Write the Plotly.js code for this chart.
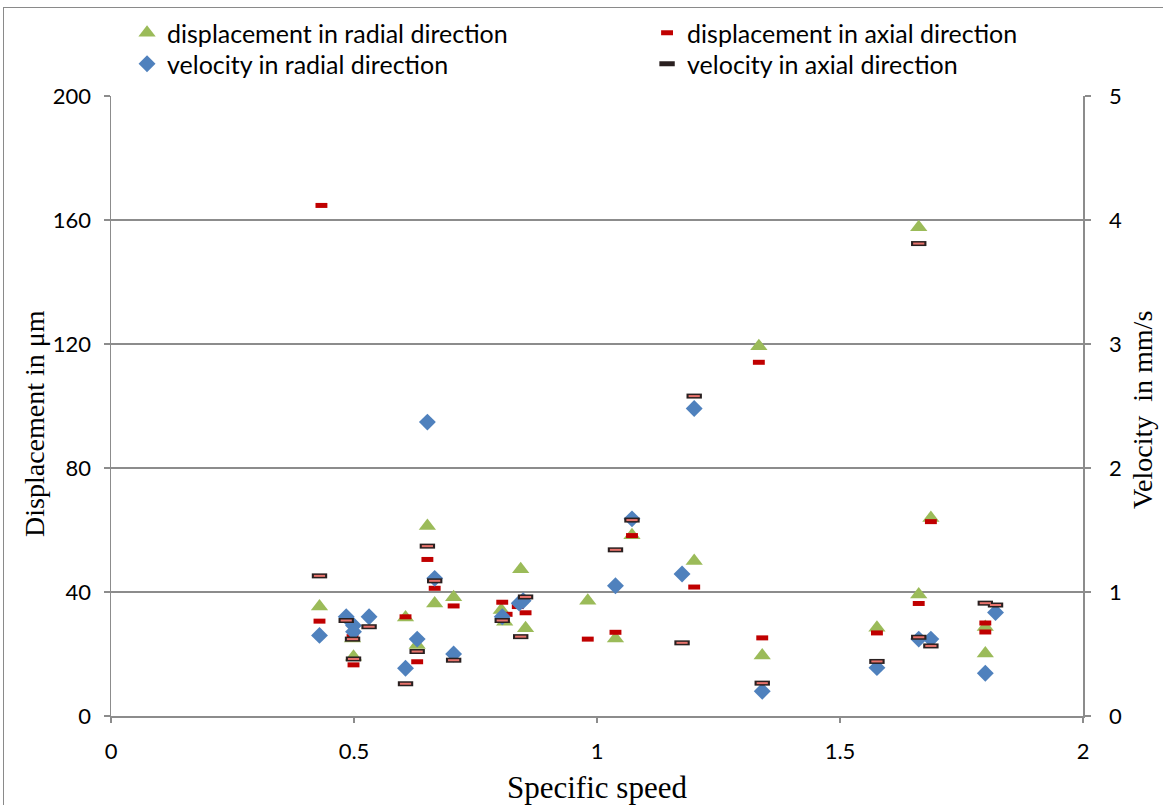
<!DOCTYPE html>
<html><head><meta charset="utf-8">
<script src="https://cdn.plot.ly/plotly-3.0.1.min.js"></script>
<style>
html,body{margin:0;padding:0;background:#fff;overflow:hidden;}
#chart{width:1163px;height:805px;}
#frame{position:absolute;left:3px;top:7px;width:1300px;height:1000px;border-left:1.5px solid #8a8a8a;border-top:1.5px solid #8a8a8a;pointer-events:none;}
</style></head><body>
<div id="chart"></div><div id="frame"></div>
<script>
// Displacement in radial direction (µm)
const dispRadialX = [0.429,0.497,0.499,0.606,0.630,0.651,0.666,0.705,0.803,0.810,0.843,0.853,0.981,1.038,1.072,1.200,1.333,1.340,1.576,1.662,1.662,1.687,1.799,1.799];
const dispRadialY = [35.3,25.0,19.1,31.8,22.9,61.3,36.3,38.3,34.2,30.4,47.3,28.3,37.2,25.0,58.3,50.0,119.3,19.5,28.5,157.7,39.2,63.9,28.7,20.2];
// Displacement in axial direction (µm)
const dispAxialX = [0.429,0.433,0.497,0.499,0.606,0.630,0.651,0.666,0.705,0.805,0.814,0.837,0.853,0.981,1.038,1.072,1.200,1.333,1.340,1.576,1.662,1.687,1.799,1.799];
const dispAxialY = [30.6,164.7,25.6,16.5,32.0,17.5,50.5,41.2,35.5,36.7,32.8,35.3,33.3,24.8,27.0,58.2,41.6,114.1,25.2,26.8,36.3,62.7,30.0,27.1];
// Velocity in radial direction (mm/s)
const velRadialX = [0.429,0.484,0.499,0.499,0.531,0.606,0.630,0.651,0.666,0.705,0.805,0.840,0.848,1.038,1.072,1.175,1.200,1.340,1.576,1.662,1.687,1.799,1.820];
const velRadialY = [0.65,0.80,0.73,0.68,0.80,0.385,0.62,2.37,1.11,0.50,0.80,0.91,0.93,1.05,1.59,1.145,2.48,0.20,0.39,0.62,0.62,0.345,0.835];
// Velocity in axial direction (mm/s)
const velAxialX = [0.429,0.484,0.497,0.499,0.531,0.606,0.630,0.651,0.666,0.705,0.805,0.843,0.853,1.038,1.072,1.175,1.200,1.340,1.576,1.662,1.662,1.687,1.799,1.820];
const velAxialY = [1.13,0.77,0.62,0.46,0.72,0.26,0.52,1.37,1.09,0.45,0.77,0.64,0.96,1.34,1.58,0.59,2.58,0.265,0.44,3.81,0.635,0.565,0.91,0.895];

const legendNames = ['displacement in radial direction','displacement in axial direction','velocity in radial direction','velocity in axial direction'];
const xTitle = 'Specific speed';
const yTitle = 'Displacement in μm';
const y2Title = 'Velocity\u00a0 in mm/s';

const traces = [
  {x:dispRadialX, y:dispRadialY, type:'scatter', mode:'markers', name:legendNames[0], yaxis:'y', legend:'legend',
   marker:{symbol:'triangle-up', size:15, color:'#9BBB59', line:{width:0}}},
  {x:dispAxialX, y:dispAxialY, type:'scatter', mode:'markers', name:legendNames[1], yaxis:'y', legend:'legend2',
   marker:{symbol:'line-ew', size:8.5, color:'#C00000', line:{width:5, color:'#C00000'}}},
  {x:velRadialX, y:velRadialY, type:'scatter', mode:'markers', name:legendNames[2], yaxis:'y2', legend:'legend3',
   marker:{symbol:'diamond', size:13, color:'#4F81BD', line:{width:0}}},
  {x:velAxialX, y:velAxialY, type:'scatter', mode:'markers', name:legendNames[3], yaxis:'y2', legend:'legend4', legendgroup:'va',
   marker:{symbol:'line-ew', size:11, color:'#2a2020', line:{width:5, color:'#2a2020'}}},
  {x:velAxialX, y:velAxialY, type:'scatter', mode:'markers', name:legendNames[3], yaxis:'y2', legend:'legend4', legendgroup:'va', showlegend:false,
   marker:{symbol:'line-ew', size:8, color:'#E8736C', line:{width:2, color:'#E8736C'}}}
];

const serif = 'Liberation Serif, Times New Roman, serif';
const gridCol = '#8c8c8c';
const legFont = {family:'Lato, sans-serif', size:25, color:'#000'};
function leg(x, y){ return {orientation:'v', x:x, xanchor:'left', y:y, yanchor:'top', font:legFont, bgcolor:'rgba(0,0,0,0)', borderwidth:0}; }
const layout = {
  width:1163, height:805,
  margin:{l:111, r:80, t:96, b:89, autoexpand:false},
  paper_bgcolor:'#ffffff', plot_bgcolor:'#ffffff',
  font:{family:'Lato, sans-serif', size:22, color:'#000'},
  hovermode:false,
  xaxis:{range:[0,2], tick0:0, dtick:0.5, showgrid:false, zeroline:false, showline:true,
    linecolor:gridCol, linewidth:1.5, ticks:'outside', ticklen:5, tickcolor:gridCol, tickwidth:1.5,
    ticklabelstandoff:10},
  yaxis:{range:[0,200], tick0:0, dtick:40, showgrid:true, gridcolor:gridCol, gridwidth:1.5, zeroline:false,
    showline:true, linecolor:gridCol, linewidth:1.5, ticks:'outside', ticklen:6, tickcolor:gridCol, tickwidth:1.5,
    ticklabelstandoff:8},
  yaxis2:{overlaying:'y', side:'right', range:[0,5], tick0:0, dtick:1, showgrid:false, zeroline:false,
    showline:true, linecolor:gridCol, linewidth:1.5, ticks:'outside', ticklen:6, tickcolor:gridCol, tickwidth:1.5,
    ticklabelstandoff:14},
  annotations:[
    {text:xTitle, xref:'paper', yref:'paper', x:0.5, y:-0.1161, xanchor:'center', yanchor:'middle', showarrow:false,
     font:{family:serif, size:31, color:'#000'}},
    {text:yTitle, xref:'paper', yref:'paper', x:-0.0782, y:0.4726, xanchor:'center', yanchor:'middle', textangle:-90, showarrow:false,
     font:{family:serif, size:28, color:'#000'}},
    {text:y2Title, xref:'paper', yref:'paper', x:1.0607, y:0.4935, xanchor:'center', yanchor:'middle', textangle:-90, showarrow:false,
     font:{family:serif, size:28, color:'#000'}}
  ],
  showlegend:true,
  legend:leg(0.0165, 1.1387),
  legend2:leg(0.5515, 1.1387),
  legend3:leg(0.0165, 1.0887),
  legend4:leg(0.5515, 1.0887)
};

Plotly.newPlot('chart', traces, layout, {displayModeBar:false, staticPlot:true});
</script></body></html>
